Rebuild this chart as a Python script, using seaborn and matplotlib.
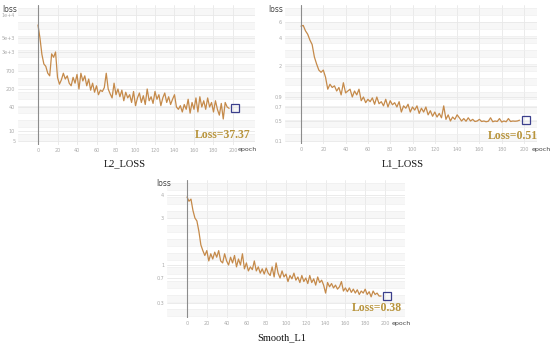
import matplotlib.pyplot as plt
import numpy as np
import pandas as pd
import seaborn as sns

# Data (every 2nd epoch)
EPOCHS = list(range(0, 198, 2))

L2_LOSS = [
    7400, 5000, 2500, 1200, 1000, 600, 500, 2600, 2000, 3000,
    450, 280, 380, 600, 400, 500, 300, 250, 450, 300,
    550, 200, 600, 350, 500, 250, 400, 180, 300, 150,
    250, 120, 180, 160, 220, 600, 200, 130, 90, 300,
    120, 200, 100, 180, 70, 150, 90, 120, 60, 160,
    45, 90, 140, 60, 110, 50, 200, 70, 100, 55,
    160, 80, 120, 45, 90, 140, 60, 100, 50, 80,
    120, 40, 35, 45, 30, 50, 35, 80, 28, 60,
    35, 90, 30, 100, 40, 70, 35, 90, 40, 60,
    30, 70, 35, 25, 55, 20, 60, 40, 37,
]

L1_LOSS = [
    5.4, 5.5, 4.8, 4.4, 3.8, 3.4, 2.5, 2.1, 1.8, 1.7,
    1.8, 1.5, 1.1, 1.25, 1.15, 1.2, 1.05, 1.15, 0.95, 1.3,
    1.0, 1.05, 1.1, 0.9, 1.05, 0.95, 1.1, 0.82, 0.9, 0.78,
    0.85, 0.8, 0.88, 0.75, 0.9, 0.76, 0.8, 0.72, 0.85, 0.7,
    0.82, 0.74, 0.78, 0.7, 0.8, 0.62, 0.72, 0.68, 0.75, 0.62,
    0.7, 0.65, 0.72, 0.6, 0.68, 0.62, 0.7, 0.58, 0.64, 0.56,
    0.62, 0.55, 0.6, 0.54, 0.72, 0.52, 0.58, 0.5, 0.55, 0.52,
    0.58, 0.54, 0.5, 0.53, 0.49, 0.54, 0.5, 0.52, 0.48, 0.5,
    0.52, 0.48, 0.5, 0.47, 0.49, 0.54, 0.47, 0.5, 0.48, 0.53,
    0.46, 0.5, 0.47, 0.53, 0.48, 0.5, 0.49, 0.5, 0.51,
]

SMOOTH_L1 = [
    3.9, 3.7, 3.8, 3.3, 3.0, 2.8, 2.2, 1.6, 1.4, 1.25,
    1.4, 1.1, 1.3, 1.15, 1.35, 1.2, 1.4, 1.1, 1.05, 1.3,
    1.1, 1.0, 1.2, 1.05, 1.25, 0.95, 1.15, 1.0, 1.3, 0.9,
    1.05, 0.85, 0.95, 0.88, 1.1, 0.85, 0.95, 0.8, 0.9, 0.78,
    0.92, 0.8, 0.75, 0.95, 0.72, 1.05, 0.8, 0.7, 0.85, 0.72,
    0.78, 0.62, 0.75, 0.68, 0.8, 0.65, 0.72, 0.6, 0.75, 0.62,
    0.7, 0.58, 0.75, 0.6, 0.68, 0.55, 0.72, 0.6, 0.65, 0.55,
    0.42, 0.6, 0.52, 0.58, 0.5, 0.55, 0.48, 0.52, 0.62, 0.45,
    0.5, 0.44, 0.5, 0.43, 0.48, 0.42, 0.47, 0.4, 0.45, 0.42,
    0.48, 0.4, 0.44, 0.37, 0.45, 0.4, 0.42, 0.38, 0.38,
]

FINAL_LOSS = ["37.37", "0.51", "0.38"]
CAPTIONS = ["L2_LOSS", "L1_LOSS", "Smooth_L1"]

# y tick values/labels of each panel
L2_TICKS = [5, 10, 40, 200, 700, 3000, 5000, 10000]
L2_TICK_LABELS = ["5", "10", "40", "200", "700", "3e+3", "5e+3", "1e+4"]
L1_TICKS = [0.1, 0.5, 0.7, 0.9, 2, 4, 6]
L1_TICK_LABELS = ["0.1", "0.5", "0.7", "0.9", "2", "4", "6"]
SM_TICKS = [0.3, 0.7, 1, 3, 4]
SM_TICK_LABELS = ["0.3", "0.7", "1", "3", "4"]
X_TICKS = list(range(0, 201, 20))

W, H = 550, 345
LINE_COLOR = "#c58a4a"
TEXT_GOLD = "#b8943c"
BOX_COLOR = "#3b3f8c"

# Layout in pixels (styling only)
PANELS = [
    dict(data=L2_LOSS, ticks=L2_TICKS, labels=L2_TICK_LABELS,
         tick_px=[141, 131, 107, 89, 71, 52, 38, 15],
         rect=(18, 5, 255, 145), x0=38, x200=233,
         loss_lbl=(2, 9), epoch=(238, 150), final=(250, 135), cap=(125, 164)),
    dict(data=L1_LOSS, ticks=L1_TICKS, labels=L1_TICK_LABELS,
         tick_px=[141, 121, 107, 97, 66, 38, 22],
         rect=(285, 5, 537, 144), x0=301, x200=524,
         loss_lbl=(268, 10), epoch=(532, 149), final=(538, 136), cap=(403, 164)),
    dict(data=SMOOTH_L1, ticks=SM_TICKS, labels=SM_TICK_LABELS,
         tick_px=[303, 278, 265, 218, 195],
         rect=(167, 180, 405, 318), x0=187, x200=385,
         loss_lbl=(156, 183), epoch=(392, 324), final=(402, 308), cap=(282, 338)),
]


def extrap(x, xp, fp):
    x = np.asarray(x, dtype=float)
    y = np.interp(x, xp, fp)
    lo = (fp[1] - fp[0]) / (xp[1] - xp[0])
    hi = (fp[-1] - fp[-2]) / (xp[-1] - xp[-2])
    y = np.where(x < xp[0], fp[0] + (x - xp[0]) * lo, y)
    y = np.where(x > xp[-1], fp[-1] + (x - xp[-1]) * hi, y)
    return y


def pixel_log_scale(tick_vals, tick_px):
    order = np.argsort(tick_vals)
    lv = np.log10(np.asarray(tick_vals, dtype=float)[order])
    pos = -np.asarray(tick_px, dtype=float)[order]

    def fwd(v):
        v = np.clip(np.asarray(v, dtype=float), 1e-9, None)
        return extrap(np.log10(v), lv, pos)

    def inv(p):
        return 10 ** extrap(p, pos, lv)

    return fwd, inv


def fx(x):
    return x / W


def fy(y):
    return 1 - y / H


sns.set_theme(style="white")
fig = plt.figure(figsize=(W / 100, H / 100), dpi=100)

for i, p in enumerate(PANELS):
    l, t, r, b = p["rect"]
    ax = fig.add_axes([fx(l), fy(b), (r - l) / W, (b - t) / H])
    fwd, inv = pixel_log_scale(p["ticks"], p["tick_px"])
    ax.set_yscale("function", functions=(fwd, inv))

    df = pd.DataFrame({"epoch": EPOCHS, "loss": p["data"]})
    sns.lineplot(data=df, x="epoch", y="loss", color=LINE_COLOR,
                 linewidth=0.9, errorbar=None, ax=ax)

    # axis limits from the pixel geometry
    scale = (p["x200"] - p["x0"]) / 200
    ax.set_xlim((l - p["x0"]) / scale, (r - p["x0"]) / scale)
    ax.set_ylim(inv(-b), inv(-t))

    # grid: many faint horizontal lines + every-20 vertical lines
    minor = inv(-np.arange(t + 3, b, 7.0))
    ax.set_yticks(minor, minor=True)
    ax.set_yticks(p["ticks"])
    ax.set_yticklabels(p["labels"])
    ax.set_xticks(X_TICKS)
    ax.grid(True, which="major", color="#e8e8e8", linewidth=0.6)
    ax.grid(True, which="minor", axis="y", color="#efefef", linewidth=0.5)
    for k in range(0, len(minor) - 1, 2):
        ax.axhspan(minor[k], minor[k + 1], color="#f7f7f7", zorder=0, lw=0)
    ax.axvline(0, color="#8c8c8c", linewidth=0.8)

    ax.tick_params(axis="both", which="both", length=0, labelsize=3.5,
                   labelcolor="#aaaaaa", pad=2)
    ax.set_xlabel("")
    ax.set_ylabel("")
    for s in ax.spines.values():
        s.set_visible(False)

    # end marker box next to last point
    ax.plot([EPOCHS[-1] + 6], [p["data"][-1]], marker="s", markersize=5.5,
            markerfacecolor="none", markeredgecolor=BOX_COLOR,
            markeredgewidth=0.9, linestyle="none")

    fig.text(fx(p["loss_lbl"][0]), fy(p["loss_lbl"][1]), "loss", fontsize=5.5,
             color="#444444", ha="left", va="center")
    fig.text(fx(p["epoch"][0]), fy(p["epoch"][1]), "epoch", fontsize=4.5,
             color="#444444", ha="left", va="center")
    fig.text(fx(p["final"][0]), fy(p["final"][1]), f"Loss={FINAL_LOSS[i]}",
             fontsize=8.5, color=TEXT_GOLD, fontweight="bold",
             family="Liberation Serif", ha="right", va="center")
    fig.text(fx(p["cap"][0]), fy(p["cap"][1]), CAPTIONS[i], fontsize=7.5,
             color="#111111", family="Liberation Serif", ha="center",
             va="center")

fig.savefig("out.png", dpi=100)
